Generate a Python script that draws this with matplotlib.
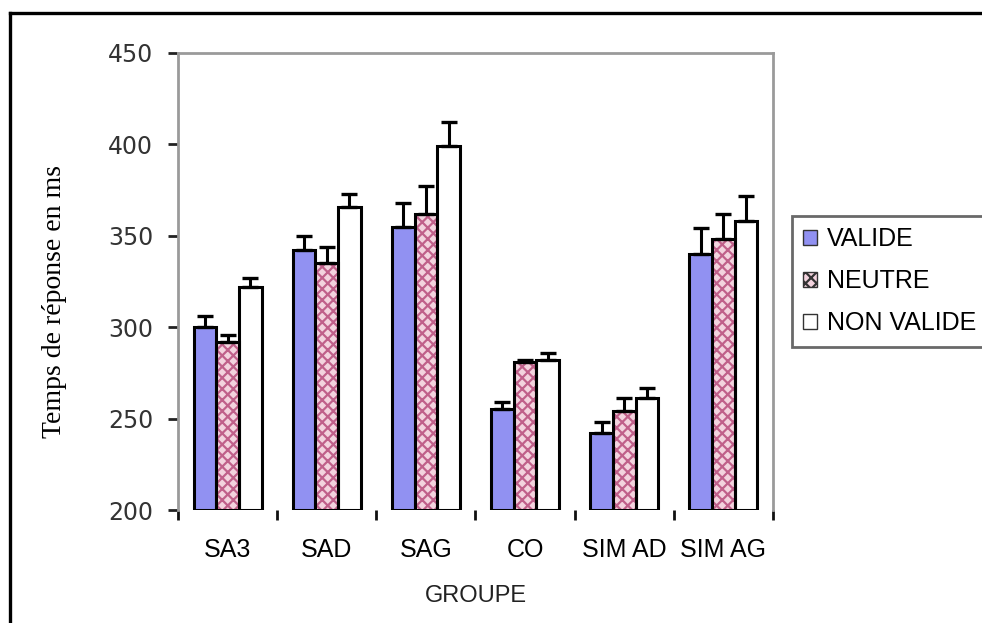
import matplotlib
matplotlib.use("Agg")
import matplotlib.pyplot as plt
from matplotlib.lines import Line2D
from matplotlib.patches import Patch
import numpy as np

# Groups and response-time means (ms) with upper error bars
groupes = ["SA3", "SAD", "SAG", "CO", "SIM AD", "SIM AG"]
series = ["VALIDE", "NEUTRE", "NON VALIDE"]
valide = [300, 342, 355, 255, 242, 340]
neutre = [292, 335, 362, 281, 254, 348]
non_valide = [322, 366, 399, 282, 261, 358]
err_valide = [6, 8, 13, 4, 6, 14]
err_neutre = [4, 9, 15, 1, 7, 14]
err_non_valide = [5, 7, 13, 4, 6, 14]

W, H = 982, 623
fig = plt.figure(figsize=(W / 100, H / 100), dpi=100)
fig.patch.set_facecolor("white")
ax = fig.add_axes([178 / W, 1 - 510 / H, (773 - 178) / W, (510 - 53) / H])

x = np.arange(len(groupes))
bw = 0.229

c_valide = "#9191f2"
c_neutre_bg = "#f3d3de"
c_neutre_hatch = "#c0608a"

# VALIDE
ax.bar(x - bw, np.array(valide) - 200, bw, bottom=200, color=c_valide,
       edgecolor="black", linewidth=2.2, zorder=2)
# NEUTRE: hatched fill underneath a black outline
plt.rcParams["hatch.linewidth"] = 1.6
ax.bar(x, np.array(neutre) - 200, bw, bottom=200, color=c_neutre_bg,
       edgecolor=c_neutre_hatch, hatch="xxx", linewidth=0, zorder=2)
ax.bar(x, np.array(neutre) - 200, bw, bottom=200, fill=False,
       edgecolor="black", linewidth=2.2, zorder=3)
# NON VALIDE
ax.bar(x + bw, np.array(non_valide) - 200, bw, bottom=200, color="white",
       edgecolor="black", linewidth=2.2, zorder=2)

ekw = dict(fmt="none", ecolor="black", elinewidth=2.2, capsize=6,
           capthick=2.4, zorder=4)
for off, vals, errs in [(-bw, valide, err_valide),
                        (0, neutre, err_neutre),
                        (bw, non_valide, err_non_valide)]:
    ax.errorbar(x + off, vals, yerr=[np.zeros(len(errs)), errs], **ekw)

ax.set_ylim(200, 450)
ax.set_xlim(-0.5, len(groupes) - 0.5)
ax.set_yticks([200, 250, 300, 350, 400, 450])
ax.tick_params(axis="y", direction="out", length=7, width=2, color="#222222",
               pad=11, labelsize=17, labelcolor="#333333")

ax.set_xticks(x)
ax.set_xticklabels(groupes, fontsize=18, fontfamily="Liberation Sans")
ax.set_xticks(np.arange(-0.5, len(groupes)), minor=True)
ax.tick_params(axis="x", which="major", length=0, pad=20)
ax.tick_params(axis="x", which="minor", direction="out", length=7, width=2,
               color="#111111")

for side in ["left", "top", "right"]:
    ax.spines[side].set_color("#9a9a9a")
    ax.spines[side].set_linewidth(2)
ax.spines["bottom"].set_visible(False)

ax.set_ylabel("Temps de réponse en ms", fontsize=20,
              fontfamily="Liberation Serif", labelpad=0)
ax.yaxis.set_label_coords(-0.186, 0.456)
ax.set_xlabel("GROUPE", fontsize=17, fontfamily="Liberation Sans",
              color="#222222")
ax.xaxis.set_label_coords(0.5, -0.164)

handles = [Patch(facecolor=c_valide, edgecolor="#333333"),
           Patch(facecolor=c_neutre_bg, edgecolor="#333333", hatch="xxx"),
           Patch(facecolor="white", edgecolor="#333333")]
leg = fig.legend(handles, series, loc="upper left", mode="expand",
                 bbox_to_anchor=(792 / W, 0, 230 / W, 1 - 216 / H),
                 prop={"family": "Liberation Sans", "size": 18},
                 frameon=True, fancybox=False, edgecolor="#444444",
                 handlelength=0.55, handleheight=0.55, handletextpad=0.4,
                 labelspacing=0.72, borderpad=0.45, borderaxespad=0)
leg.get_frame().set_linewidth(2)

# Outer frame (top and left edges)
fig.add_artist(Line2D([10 / W, 1], [1 - 13 / H, 1 - 13 / H], color="black",
                      linewidth=2.4, transform=fig.transFigure))
fig.add_artist(Line2D([10 / W, 10 / W], [0, 1 - 13 / H], color="black",
                      linewidth=2.4, transform=fig.transFigure))

fig.savefig("out.png", dpi=100)
